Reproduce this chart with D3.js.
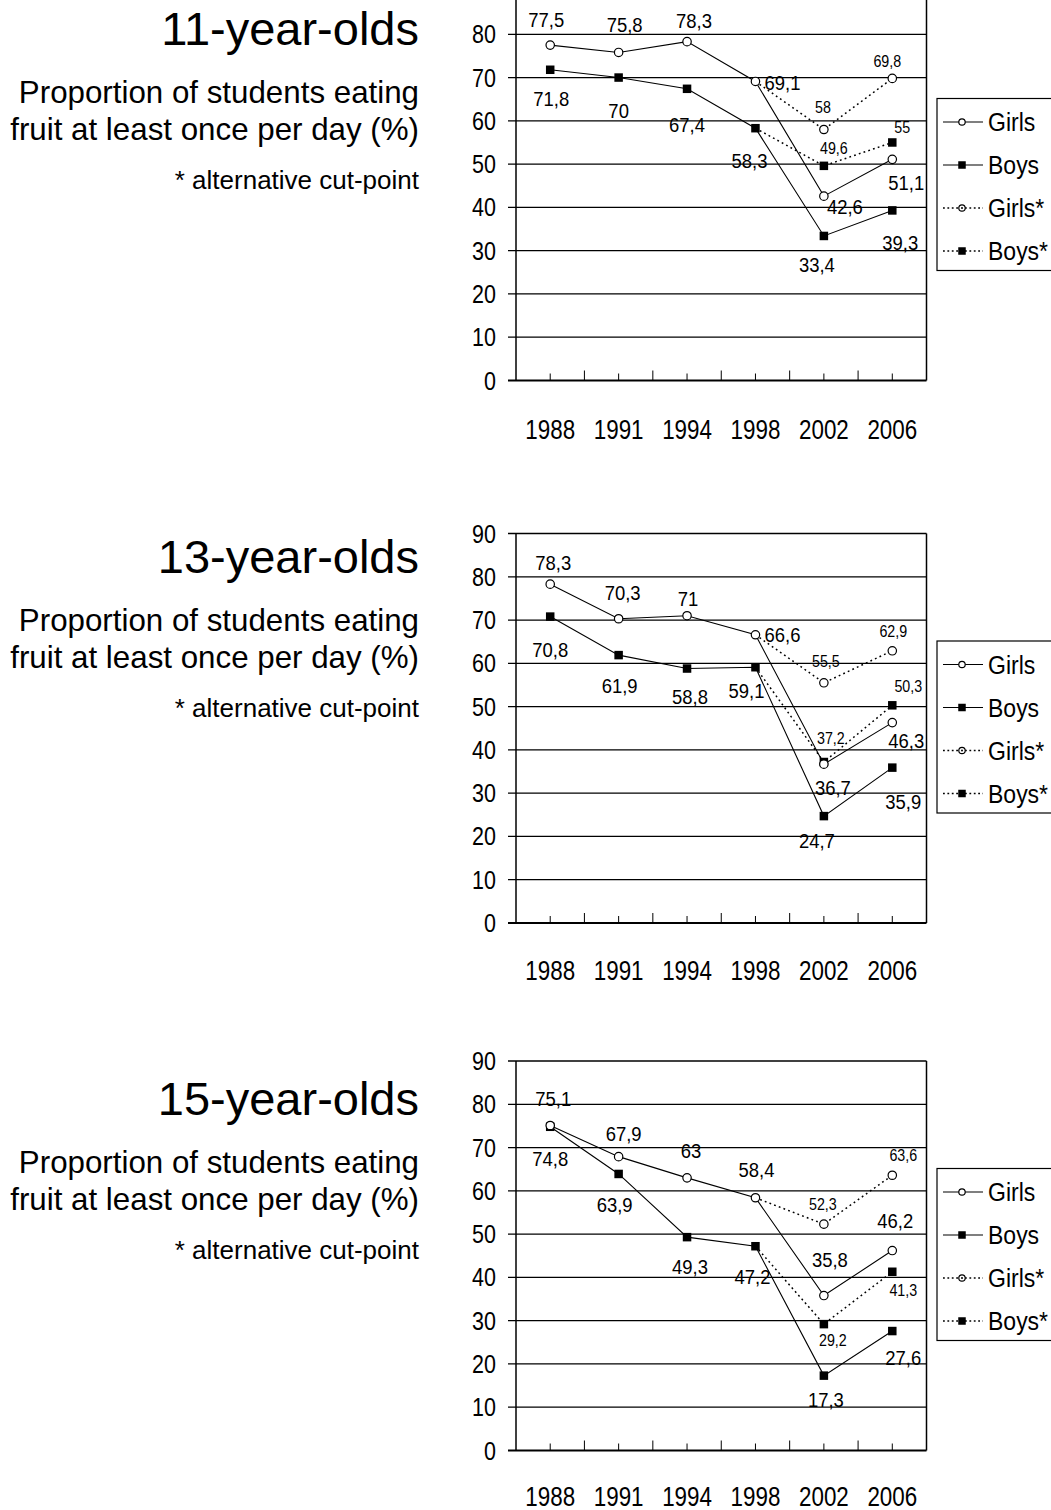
<!DOCTYPE html>
<html>
<head>
<meta charset="utf-8">
<script src="https://cdn.jsdelivr.net/npm/d3@7"></script>
<style>
  html, body { margin: 0; padding: 0; background: #fff; }
  svg { display: block; }
  text { font-family: "Liberation Sans", Arial, Helvetica, sans-serif; fill: #000; }
</style>
</head>
<body>
<div id="chart"></div>
<script>
// data
const years = ["1988", "1991", "1994", "1998", "2002", "2006"];
const yTicks = [0, 10, 20, 30, 40, 50, 60, 70, 80, 90];

const girls11 = [77.5, 75.8, 78.3, 69.1, 42.6, 51.1];
const boys11 = [71.8, 70, 67.4, 58.3, 33.4, 39.3];
const girlsAlt11 = [null, null, null, 69.1, 58, 69.8];
const boysAlt11 = [null, null, null, 58.3, 49.6, 55];

const girls13 = [78.3, 70.3, 71, 66.6, 36.7, 46.3];
const boys13 = [70.8, 61.9, 58.8, 59.1, 24.7, 35.9];
const girlsAlt13 = [null, null, null, 66.6, 55.5, 62.9];
const boysAlt13 = [null, null, null, 59.1, 37.2, 50.3];

const girls15 = [75.1, 67.9, 63, 58.4, 35.8, 46.2];
const boys15 = [74.8, 63.9, 49.3, 47.2, 17.3, 27.6];
const girlsAlt15 = [null, null, null, 58.4, 52.3, 63.6];
const boysAlt15 = [null, null, null, 47.2, 29.2, 41.3];

const seriesNames = ["Girls", "Boys", "Girls*", "Boys*"];

// label nudges (dx, dy to baseline) as placed in the original
const labelNudge11 = {
  girls: [[-4, -18], [6, -20], [7, -14], [27, 9], [21, 18], [14, 31]],
  boys: [[1, 36], [0, 40], [0, 43], [-6, 40], [-7, 36], [8, 40]],
  girlsAlt: [null, null, null, null, [-1, -16], [-5, -11]],
  boysAlt: [null, null, null, null, [10, -12], [10, -9]]
};
const labelNudge13 = {
  girls: [[3, -14], [4, -19], [1, -10], [27, 7], [9, 31], [14, 25]],
  boys: [[0, 40], [1, 38], [3, 35], [-9, 31], [-7, 32], [11, 41]],
  girlsAlt: [null, null, null, null, [2, -16], [1, -14]],
  boysAlt: [null, null, null, null, [7, -18], [16, -13]]
};
const labelNudge15 = {
  girls: [[3, -19], [5, -16], [4, -20], [1, -21], [6, -29], [3, -23]],
  boys: [[0, 39], [-4, 38], [3, 37], [-3, 38], [2, 31], [11, 34]],
  girlsAlt: [null, null, null, null, [-1, -14], [11, -14]],
  boysAlt: [null, null, null, null, [9, 22], [11, 24]]
};

const width = 1051;
const height = 1510;

const svg = d3
  .select("#chart")
  .append("svg")
  .attr("width", width)
  .attr("height", height)
  .attr("viewBox", `0 0 ${width} ${height}`);

const panels = [
  { title: "11-year-olds", top: -9, titleY: 45, xLabGap: 58, girls: girls11, boys: boys11, girlsAlt: girlsAlt11, boysAlt: boysAlt11, nudge: labelNudge11 },
  { title: "13-year-olds", top: 533.5, titleY: 573, xLabGap: 57, girls: girls13, boys: boys13, girlsAlt: girlsAlt13, boysAlt: boysAlt13, nudge: labelNudge13 },
  { title: "15-year-olds", top: 1061, titleY: 1115, xLabGap: 55.5, girls: girls15, boys: boys15, girlsAlt: girlsAlt15, boysAlt: boysAlt15, nudge: labelNudge15 }
];

const plotLeft = 516;
const plotRight = 926.5;
const plotHeight = 389.5;

const x = d3.scaleBand().domain(years).range([plotLeft, plotRight]).padding(0);
const bw = x.bandwidth();
const cx = (i) => x(years[i]) + bw / 2;
const fmt = (v) => String(v).replace(".", ",");

// condensed-looking text: regular face squeezed horizontally
function narrowText(g, px, py, txt, size, anchor, sx, dy) {
  return g
    .append("text")
    .attr("transform", `translate(${px},${py}) scale(${sx},1)`)
    .attr("text-anchor", anchor)
    .attr("dy", dy || null)
    .style("font-size", size + "px")
    .text(txt);
}

function drawCircle(g, px, py, r) {
  g.append("circle")
    .attr("cx", px)
    .attr("cy", py)
    .attr("r", r)
    .attr("fill", "#fff")
    .attr("stroke", "#000")
    .attr("stroke-width", 1.2);
}

function drawSquare(g, px, py, s) {
  g.append("rect")
    .attr("x", px - s / 2)
    .attr("y", py - s / 2)
    .attr("width", s)
    .attr("height", s)
    .attr("fill", "#000");
}

function drawPanel(p) {
  const g = svg.append("g");
  const y = d3.scaleLinear().domain([0, 90]).range([p.top + plotHeight, p.top]);

  // left side texts
  g.append("text")
    .attr("x", 419)
    .attr("y", p.titleY)
    .attr("text-anchor", "end")
    .style("font-size", "47px")
    .text(p.title);

  const sub = [
    ["Proportion of students eating", 57.5, 31.3],
    ["fruit at least once per day (%)", 94.5, 31.3],
    ["* alternative cut-point", 144, 26]
  ];
  sub.forEach(([t, dy, fs]) => {
    g.append("text")
      .attr("x", 419)
      .attr("y", p.titleY + dy)
      .attr("text-anchor", "end")
      .style("font-size", fs + "px")
      .text(t);
  });

  // gridlines + y labels
  g.selectAll(".grid")
    .data(yTicks)
    .join("line")
    .attr("x1", plotLeft - 8)
    .attr("x2", plotRight)
    .attr("y1", (d) => y(d))
    .attr("y2", (d) => y(d))
    .attr("stroke", "#000")
    .attr("stroke-width", (d) => (d === 0 ? 2.2 : 1.3));

  yTicks.forEach((d) => narrowText(g, 496, y(d), d, 25, "end", 0.86, "0.36em"));

  // frame sides
  [plotLeft, plotRight].forEach((xx) => {
    g.append("line")
      .attr("x1", xx)
      .attr("x2", xx)
      .attr("y1", y(90))
      .attr("y2", y(0))
      .attr("stroke", "#000")
      .attr("stroke-width", 1.5);
  });

  // x ticks: tall at band edges, short at centres
  years.forEach((yr, i) => {
    g.append("line")
      .attr("x1", cx(i))
      .attr("x2", cx(i))
      .attr("y1", y(0))
      .attr("y2", y(0) - 7)
      .attr("stroke", "#000")
      .attr("stroke-width", 1);
    if (i > 0) {
      g.append("line")
        .attr("x1", x(yr))
        .attr("x2", x(yr))
        .attr("y1", y(0))
        .attr("y2", y(0) - 10)
        .attr("stroke", "#000")
        .attr("stroke-width", 1);
    }
  });

  years.forEach((yr, i) => narrowText(g, cx(i), y(0) + p.xLabGap, yr, 28, "middle", 0.8));

  const line = d3
    .line()
    .defined((d) => d != null)
    .x((d, i) => cx(i))
    .y((d) => y(d));

  // dotted alternative cut-point lines
  [p.girlsAlt, p.boysAlt].forEach((s) => {
    g.append("path")
      .attr("d", line(s))
      .attr("fill", "none")
      .attr("stroke", "#000")
      .attr("stroke-width", 1.5)
      .attr("stroke-dasharray", "1.8,3.2");
  });

  [p.girls, p.boys].forEach((s) => {
    g.append("path")
      .attr("d", line(s))
      .attr("fill", "none")
      .attr("stroke", "#000")
      .attr("stroke-width", 1.1);
  });

  // markers
  p.boysAlt.forEach((v, i) => { if (v != null && i > 3) drawSquare(g, cx(i), y(v), 8.5); });
  p.girlsAlt.forEach((v, i) => { if (v != null && i > 3) drawCircle(g, cx(i), y(v), 4.2); });
  p.boys.forEach((v, i) => drawSquare(g, cx(i), y(v), 8.5));
  p.girls.forEach((v, i) => drawCircle(g, cx(i), y(v), 4.2));

  // value labels
  const labelSets = [
    [p.girls, p.nudge.girls, 20.5, 0.9],
    [p.boys, p.nudge.boys, 20.5, 0.9],
    [p.girlsAlt, p.nudge.girlsAlt, 17, 0.84],
    [p.boysAlt, p.nudge.boysAlt, 17, 0.84]
  ];
  labelSets.forEach(([vals, nudge, fs, sx]) => {
    vals.forEach((v, i) => {
      if (v == null || nudge[i] == null) return;
      narrowText(g, cx(i) + nudge[i][0], y(v) + nudge[i][1], fmt(v), fs, "middle", sx);
    });
  });

  // legend
  const legTop = p.top + 107.5;
  const lg = g.append("g");
  lg.append("rect")
    .attr("x", 937)
    .attr("y", legTop)
    .attr("width", 140)
    .attr("height", 172)
    .attr("fill", "#fff")
    .attr("stroke", "#000")
    .attr("stroke-width", 1.2);

  seriesNames.forEach((name, i) => {
    const ly = legTop + 23.5 + i * 43;
    const dotted = i >= 2;
    lg.append("line")
      .attr("x1", 943)
      .attr("x2", 983)
      .attr("y1", ly)
      .attr("y2", ly)
      .attr("stroke", "#000")
      .attr("stroke-width", dotted ? 1.5 : 1.1)
      .attr("stroke-dasharray", dotted ? "1.8,2.6" : null);
    if (i % 2 === 0) {
      drawCircle(lg, 962, ly, 3.2);
      if (dotted) {
        lg.append("circle").attr("cx", 962).attr("cy", ly).attr("r", 1).attr("fill", "#000");
      }
    } else {
      drawSquare(lg, 962, ly, 7.5);
    }
    narrowText(lg, 988, ly, name, 25, "start", 0.92, "0.36em");
  });
}

panels.forEach(drawPanel);
</script>
</body>
</html>
